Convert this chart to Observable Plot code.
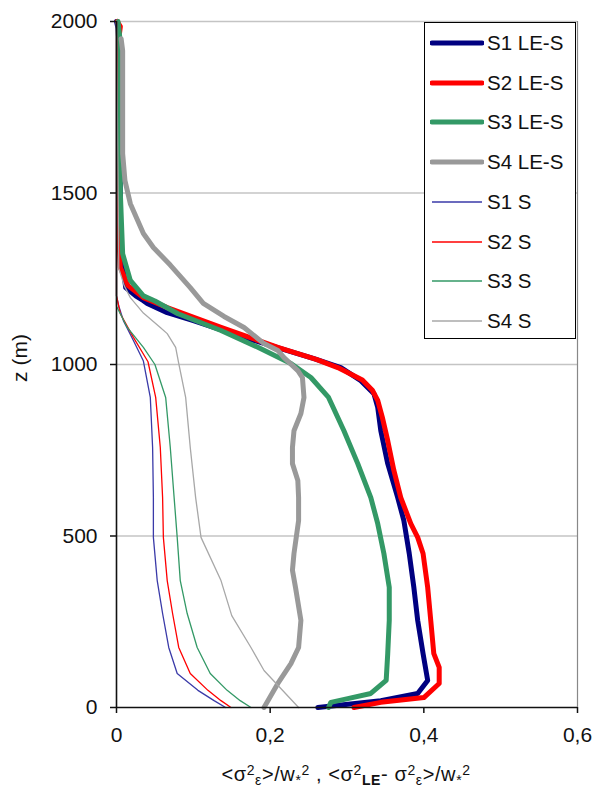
<!DOCTYPE html>
<html>
<head>
<meta charset="utf-8">
<script src="https://cdn.jsdelivr.net/npm/d3@7"></script>
<script src="https://cdn.jsdelivr.net/npm/@observablehq/plot@0.6"></script>
<style>
  html, body { margin: 0; padding: 0; background: white; }
  #wrap { position: relative; width: 594px; height: 787px; overflow: hidden; font-family: 'Liberation Sans', Arial, sans-serif; }
  #legend { position: absolute; left: 424px; top: 22px; width: 150px; height: 315px; border: 1.5px solid black; background: white; }
  .row { position: absolute; left: 0; height: 24px; display: flex; align-items: center; font-size: 20.5px; color: #111; }
  .row svg { display: block; margin-left: 5px; margin-right: 3px; }
</style>
</head>
<body>
<div id="wrap"></div>
<script>
// ---- data: [value, z(m)] pairs ----
const s1LES = [[0.000,2000],[0.002,1980],[0.004,1900],[0.004,1700],[0.005,1500],[0.005,1400],[0.006,1320],[0.009,1275],[0.012,1224],[0.025,1200],[0.035,1186],[0.040,1178],[0.066,1151],[0.100,1128],[0.166,1079],[0.214,1046],[0.257,1017],[0.292,991],[0.318,953],[0.335,915],[0.340,875],[0.344,807],[0.353,711],[0.366,612],[0.374,545],[0.381,449],[0.387,350],[0.392,254],[0.399,157],[0.405,79],[0.392,41],[0.344,20],[0.262,0]];
const s2LES = [[0.001,2000],[0.005,1985],[0.003,1950],[0.003,1700],[0.003,1500],[0.003,1370],[0.005,1283],[0.015,1230],[0.035,1195],[0.066,1166],[0.136,1108],[0.210,1050],[0.260,1015],[0.288,991],[0.320,955],[0.333,925],[0.340,895],[0.346,846],[0.353,778],[0.361,691],[0.370,612],[0.383,536],[0.392,496],[0.399,449],[0.405,350],[0.409,254],[0.413,157],[0.420,117],[0.420,70],[0.400,29],[0.344,15],[0.309,0]];
const s3LES = [[0.002,2000],[0.004,1960],[0.005,1900],[0.005,1500],[0.008,1323],[0.018,1245],[0.035,1200],[0.050,1185],[0.080,1148],[0.136,1099],[0.184,1050],[0.227,1003],[0.253,962],[0.276,904],[0.296,807],[0.314,711],[0.331,612],[0.340,536],[0.348,449],[0.355,350],[0.355,254],[0.353,157],[0.351,79],[0.331,41],[0.301,26],[0.279,15],[0.276,0]];
const s4LES = [[0.006,1950],[0.008,1915],[0.008,1800],[0.008,1615],[0.011,1536],[0.018,1469],[0.035,1382],[0.048,1341],[0.070,1290],[0.096,1224],[0.113,1178],[0.140,1140],[0.166,1108],[0.192,1061],[0.210,1041],[0.218,1020],[0.236,982],[0.242,962],[0.244,904],[0.240,857],[0.231,807],[0.229,758],[0.229,711],[0.236,662],[0.237,612],[0.237,545],[0.231,449],[0.229,400],[0.233,350],[0.240,254],[0.237,175],[0.227,128],[0.210,70],[0.192,0]];
const s1S = [[0.000,2000],[0.000,1200],[0.003,1170],[0.009,1128],[0.022,1070],[0.035,1010],[0.044,904],[0.047,758],[0.048,612],[0.048,496],[0.053,370],[0.060,274],[0.068,175],[0.079,99],[0.106,50],[0.127,20],[0.142,0]];
const s2S = [[0.000,2000],[0.000,1200],[0.005,1148],[0.022,1079],[0.041,1008],[0.051,904],[0.057,758],[0.060,612],[0.061,496],[0.066,370],[0.073,274],[0.081,175],[0.096,99],[0.119,50],[0.136,20],[0.149,0]];
const s3S = [[0.000,2000],[0.000,1170],[0.014,1108],[0.035,1050],[0.050,1000],[0.064,904],[0.070,758],[0.075,612],[0.079,496],[0.083,370],[0.092,274],[0.105,175],[0.122,99],[0.144,50],[0.161,20],[0.175,0]];
const s4S = [[0.000,2000],[0.003,1280],[0.010,1230],[0.018,1195],[0.035,1150],[0.057,1108],[0.066,1090],[0.077,1050],[0.081,1003],[0.090,904],[0.096,758],[0.103,612],[0.110,496],[0.136,370],[0.150,268],[0.175,175],[0.192,108],[0.237,0]];

const seriesNames = ["S1 LE-S","S2 LE-S","S3 LE-S","S4 LE-S","S1 S","S2 S","S3 S","S4 S"];
const seriesData = [s1LES, s2LES, s3LES, s4LES, s1S, s2S, s3S, s4S];
const xTicks = [0, 0.2, 0.4, 0.6];
const yTicks = [0, 500, 1000, 1500, 2000];

// ---- styles ----
const seriesColors = ["#000080","#ff0000","#339966","#999999","#3a3aa8","#ff0000","#339966","#a8a8a8"];
const seriesWidths = [5,5,5,5,1.3,1.3,1.3,1.3];

const fmtX = d => d === 0 ? "0" : d3.format(".1f")(d).replace(".", ",");

const lines = seriesData.map((data, i) =>
  Plot.line(data, {x: d => d[0], y: d => d[1], stroke: seriesColors[i], strokeWidth: seriesWidths[i], strokeLinejoin: "round", strokeLinecap: "round"})
);

const chart = Plot.plot({
  width: 594,
  height: 787,
  marginLeft: 116,
  marginRight: 17,
  marginTop: 21,
  marginBottom: 80,
  style: {fontFamily: "'Liberation Sans', Arial, sans-serif", fontSize: "21px", background: "white", color: "#111", overflow: "visible"},
  x: {domain: [0, 0.6]},
  y: {domain: [0, 2000]},
  marks: [
    Plot.ruleY(yTicks.filter(d => d > 0), {stroke: "#c4c4c4", strokeWidth: 1.5}),
    Plot.ruleX([0.6], {stroke: "#888888", strokeWidth: 1.2}),
    ...lines,
    Plot.ruleX([0], {stroke: "#111", strokeWidth: 1.6}),
    Plot.ruleY([0], {stroke: "#111", strokeWidth: 1.6}),
    Plot.axisX({ticks: xTicks, tickFormat: fmtX, tickSize: 6, tickPadding: 14, label: null, stroke: "#111", strokeWidth: 1.5}),
    Plot.axisY({ticks: yTicks, tickFormat: d3.format("d"), tickSize: 6, tickPadding: 13, label: null, stroke: "#111", strokeWidth: 1.5})
  ]
});

const wrap = document.getElementById("wrap");
wrap.appendChild(chart);

// axis titles
const svg = d3.select(chart);
const xt = svg.append("text")
  .attr("x", 346).attr("y", 781)
  .attr("text-anchor", "middle")
  .attr("font-size", 20).attr("letter-spacing", "0.6px").attr("fill", "#111");
const parts = [
  ["<σ", 0], ["2", -1], ["ε", 1], [">/w", 0], ["*", 1], ["2", -1], [" , ", 0],
  ["<σ", 0], ["2", -1], ["LE", 1], ["- ", 0], ["σ", 0], ["2", -1], ["ε", 1], [">/w", 0], ["*", 1], ["2", -1]
];
parts.forEach(([t, s]) => {
  const ts = xt.append("tspan").text(t);
  if (s !== 0) {
    ts.attr("font-size", 14).attr("baseline-shift", s < 0 ? "45%" : "-25%");
    if (t === "LE") ts.attr("font-weight", "bold");
  }
});
svg.append("text")
  .attr("transform", "translate(27,358) rotate(-90)")
  .attr("text-anchor", "middle")
  .attr("font-size", 21).attr("fill", "#111")
  .text("z (m)");

// legend
const legend = d3.select(wrap).append("div").attr("id", "legend");
seriesNames.forEach((name, i) => {
  const row = legend.append("div").attr("class", "row").style("top", (8 + i * 39.7) + "px");
  const s = row.append("svg").attr("width", 54).attr("height", 24);
  s.append("line").attr("x1", 2).attr("x2", 52).attr("y1", 12).attr("y2", 12)
    .attr("stroke", seriesColors[i]).attr("stroke-width", seriesWidths[i] > 2 ? 5 : 1.5)
    .attr("stroke-linecap", seriesWidths[i] > 2 ? "round" : "butt");
  row.append("span").text(name);
});
</script>
</body>
</html>
